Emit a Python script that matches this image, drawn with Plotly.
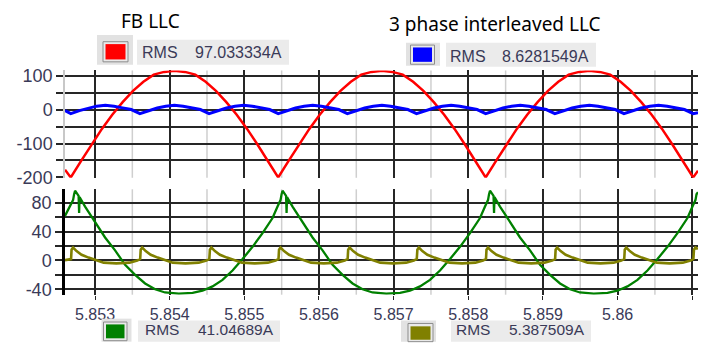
import plotly.graph_objects as go

# The page body keeps its default 8px margin, so the figure is sized to fit the
# 713x352 window exactly and all layout positions are given in window pixels.
WIN_W, WIN_H, OFF = 713, 352, 8
W, H = WIN_W - 2 * OFF, WIN_H - 2 * OFF

# ---------------- data (time in s, current in A) ----------------
red_t = [5.852598,
         5.852675, 5.852814, 5.852953, 5.853092, 5.853231, 5.853370, 5.853509, 5.853648, 5.853787, 5.853926,
         5.854065, 5.854204, 5.854343, 5.854482, 5.854620, 5.854759, 5.854898, 5.855037, 5.855176, 5.855315,
         5.855454, 5.855593, 5.855732, 5.855871, 5.856010, 5.856149, 5.856288, 5.856427, 5.856566, 5.856705,
         5.856844, 5.856983, 5.857122, 5.857261, 5.857399, 5.857538, 5.857677, 5.857816, 5.857955, 5.858094,
         5.858233, 5.858372, 5.858511, 5.858650, 5.858789, 5.858928, 5.859067, 5.859206, 5.859345, 5.859484,
         5.859623, 5.859762, 5.859901, 5.860040, 5.860178, 5.860317, 5.860456, 5.860595, 5.860734, 5.860873,
         5.861012, 5.861077]
red_i = [-177,
         -200, -151, -103, -57, -15, 22, 55, 82, 103, 111,
         114, 111, 103, 82, 55, 22, -15, -57, -103, -151,
         -200, -151, -103, -57, -15, 22, 55, 82, 103, 111,
         114, 111, 103, 82, 55, 22, -15, -57, -103, -151,
         -200, -151, -103, -57, -15, 22, 55, 82, 103, 111,
         114, 111, 103, 82, 55, 22, -15, -57, -103, -151,
         -200, -180]

blue_t = [5.852598,
          5.852675, 5.852791, 5.852907, 5.853022, 5.853138, 5.853254, 5.853370, 5.853486,
          5.853601, 5.853717, 5.853833, 5.853948, 5.854064, 5.854180, 5.854296, 5.854412,
          5.854528, 5.854644, 5.854760, 5.854875, 5.854991, 5.855107, 5.855223, 5.855339,
          5.855454, 5.855570, 5.855686, 5.855801, 5.855917, 5.856033, 5.856149, 5.856265,
          5.856380, 5.856496, 5.856612, 5.856727, 5.856843, 5.856959, 5.857075, 5.857191,
          5.857307, 5.857423, 5.857539, 5.857654, 5.857770, 5.857886, 5.858002, 5.858118,
          5.858233, 5.858349, 5.858465, 5.858580, 5.858696, 5.858812, 5.858928, 5.859044,
          5.859159, 5.859275, 5.859391, 5.859506, 5.859622, 5.859738, 5.859854, 5.859970,
          5.860085, 5.860201, 5.860317, 5.860432, 5.860548, 5.860664, 5.860780, 5.860896,
          5.861012, 5.861077]
blue_i = [-3,
          -12, -3, 4.5, 10, 12.5, 10, 5, 0,
          -12, -3, 4.5, 10, 12.5, 10, 5, 0,
          -12, -3, 4.5, 10, 12.5, 10, 5, 0,
          -12, -3, 4.5, 10, 12.5, 10, 5, 0,
          -12, -3, 4.5, 10, 12.5, 10, 5, 0,
          -12, -3, 4.5, 10, 12.5, 10, 5, 0,
          -12, -3, 4.5, 10, 12.5, 10, 5, 0,
          -12, -3, 4.5, 10, 12.5, 10, 5, 0,
          -12, -3, 4.5, 10, 12.5, 10, 5, 0,
          -12, -9]

green_t = [5.852598, 5.852666, 5.852706, 5.852720,
           5.852733, 5.852760, 5.852780, 5.852787, 5.852793, 5.852867, 5.853001, 5.853135, 5.853269,
           5.853403, 5.853537, 5.853671, 5.853805, 5.853938, 5.854123,
           5.854307, 5.854440, 5.854574, 5.854708, 5.854842, 5.854976, 5.855110, 5.855244, 5.855378,
           5.855445, 5.855485, 5.855499,
           5.855512, 5.855539, 5.855559, 5.855566, 5.855572, 5.855646, 5.855780, 5.855914, 5.856048,
           5.856182, 5.856316, 5.856450, 5.856584, 5.856717, 5.856902,
           5.857086, 5.857219, 5.857353, 5.857487, 5.857621, 5.857755, 5.857889, 5.858023, 5.858157,
           5.858224, 5.858264, 5.858278,
           5.858291, 5.858318, 5.858338, 5.858345, 5.858351, 5.858425, 5.858559, 5.858693, 5.858827,
           5.858961, 5.859095, 5.859229, 5.859363, 5.859496, 5.859681,
           5.859865, 5.859998, 5.860132, 5.860266, 5.860400, 5.860534, 5.860668, 5.860802, 5.860936,
           5.861003, 5.861043, 5.861057, 5.861077]
green_i = [62, 75, 84, 92,
           97, 93, 90, 66, 88, 75, 54, 32, 14,
           -6, -20, -32, -40, -44.5, -46,
           -45, -42, -36, -27, -14, 2, 19, 38, 59,
           75, 84, 92,
           97, 93, 90, 66, 88, 75, 54, 32, 14,
           -6, -20, -32, -40, -44.5, -46,
           -45, -42, -36, -27, -14, 2, 19, 38, 59,
           75, 84, 92,
           97, 93, 90, 66, 88, 75, 54, 32, 14,
           -6, -20, -32, -40, -44.5, -46,
           -45, -42, -36, -27, -14, 2, 19, 38, 59,
           75, 84, 92, 95]

olive_t = [5.852598, 5.852679,
           5.852686, 5.852706, 5.852753, 5.852820, 5.852914, 5.853007, 5.853115, 5.853286, 5.853463, 5.853566, 5.853605,
           5.853612, 5.853632, 5.853679, 5.853746, 5.853840, 5.853933, 5.854041, 5.854212, 5.854389, 5.854492, 5.854531,
           5.854539, 5.854559, 5.854606, 5.854673, 5.854767, 5.854860, 5.854968, 5.855139, 5.855316, 5.855419, 5.855458,
           5.855465, 5.855485, 5.855532, 5.855599, 5.855693, 5.855786, 5.855894, 5.856065, 5.856242, 5.856345, 5.856384,
           5.856391, 5.856411, 5.856458, 5.856525, 5.856619, 5.856712, 5.856820, 5.856991, 5.857168, 5.857271, 5.857310,
           5.857318, 5.857338, 5.857385, 5.857452, 5.857546, 5.857639, 5.857747, 5.857918, 5.858095, 5.858198, 5.858237,
           5.858244, 5.858264, 5.858311, 5.858378, 5.858472, 5.858565, 5.858673, 5.858844, 5.859021, 5.859124, 5.859163,
           5.859170, 5.859190, 5.859237, 5.859304, 5.859398, 5.859491, 5.859599, 5.859770, 5.859947, 5.860050, 5.860089,
           5.860096, 5.860116, 5.860163, 5.860230, 5.860324, 5.860417, 5.860525, 5.860696, 5.860873, 5.860976, 5.861015,
           5.861023, 5.861043, 5.861077]
olive_i = [0.5, 2,
           15, 18, 13, 8, 4, 0.5, -3, -4, -3, 0, 2,
           15, 18, 13, 8, 4, 0.5, -3, -4, -3, 0, 2,
           15, 18, 13, 8, 4, 0.5, -3, -4, -3, 0, 2,
           15, 18, 13, 8, 4, 0.5, -3, -4, -3, 0, 2,
           15, 18, 13, 8, 4, 0.5, -3, -4, -3, 0, 2,
           15, 18, 13, 8, 4, 0.5, -3, -4, -3, 0, 2,
           15, 18, 13, 8, 4, 0.5, -3, -4, -3, 0, 2,
           15, 18, 13, 8, 4, 0.5, -3, -4, -3, 0, 2,
           15, 18, 13, 8, 4, 0.5, -3, -4, -3, 0, 2,
           15, 18, 16]

x_tickvals = [5.853, 5.854, 5.855, 5.856, 5.857, 5.858, 5.859, 5.860, 5.861]
x_ticktext = ["5.853", "5.854", "5.855", "5.856", "5.857", "5.858", "5.859", "5.86", "5.861"]
x_minor_vals = [5.8535, 5.8545, 5.8555, 5.8565, 5.8575, 5.8585, 5.8595, 5.8605]
top_tickvals = [-200, -100, 0, 100]
top_ticktext = ["-200", "-100", "0", "100"]
bot_tickvals = [-40, 0, 40, 80]
bot_ticktext = ["-40", "0", "40", "80"]

titles = ["FB LLC", "3 phase interleaved LLC"]
rms_label = "RMS"
rms_values = ["97.033334A", "8.6281549A", "41.04689A", "5.387509A"]
colors = ["#ff0000", "#0000ff", "#008000", "#808000"]

# ---------------- helpers: window pixels -> paper fractions ----------------
def px(x):
    return (x - OFF) / W

def py(y):
    return 1 - (y - OFF) / H

TXT = "#3a3a58"
GRID = "#262626"
MINOR = "#cfcfcf"
XR = [5.852598, 5.861077]

fig = go.Figure()
fig.add_trace(go.Scatter(x=red_t, y=red_i, mode="lines", line=dict(color=colors[0], width=2.5),
                         xaxis="x", yaxis="y", showlegend=False))
fig.add_trace(go.Scatter(x=blue_t, y=blue_i, mode="lines", line=dict(color=colors[1], width=3),
                         xaxis="x", yaxis="y", showlegend=False))
fig.add_trace(go.Scatter(x=green_t, y=green_i, mode="lines", line=dict(color=colors[2], width=2.3),
                         xaxis="x2", yaxis="y2", showlegend=False))
fig.add_trace(go.Scatter(x=olive_t, y=olive_i, mode="lines", line=dict(color=colors[3], width=2.6),
                         xaxis="x2", yaxis="y2", showlegend=False))

xdom = [px(65), px(698)]
top_dom = [py(181), py(69)]
bot_dom = [py(303), py(193)]
common_x = dict(domain=xdom, range=XR, tickmode="array", tickvals=x_tickvals, ticktext=x_ticktext,
                showgrid=True, gridcolor=GRID, gridwidth=1.5, zeroline=False, showline=False)
yfont = dict(size=18, color=TXT, family="Liberation Sans")

fig.update_layout(
    width=W, height=H, margin=dict(l=0, r=0, t=0, b=0),
    paper_bgcolor="white", plot_bgcolor="white",
    font=dict(family="Liberation Sans, Arial, sans-serif", color=TXT),
    xaxis=dict(anchor="y", showticklabels=False, ticks="", **common_x),
    xaxis2=dict(anchor="y2", showticklabels=True, ticks="outside", ticklen=4, tickcolor=GRID,
                ticklabelstandoff=1, tickfont=dict(size=16, color=TXT, family="Liberation Sans"),
                **common_x),
    yaxis=dict(domain=top_dom, range=[-201, 115.2], anchor="x",
               tickmode="array", tickvals=top_tickvals, ticktext=top_ticktext,
               ticks="outside", ticklen=7, tickcolor=GRID, tickwidth=1.5, tickfont=yfont,
               showgrid=True, gridcolor=GRID, gridwidth=1.5, zeroline=False,
               showline=True, linecolor="#c8c8c8", linewidth=1.5,
               minor=dict(tickmode="linear", tick0=0, dtick=50, showgrid=True, gridcolor=GRID,
                          gridwidth=1.5, ticks="outside", ticklen=7, tickcolor=GRID, tickwidth=1.5)),
    yaxis2=dict(domain=bot_dom, range=[-47.6, 99], anchor="x2",
                tickmode="array", tickvals=bot_tickvals, ticktext=bot_ticktext,
                ticks="outside", ticklen=7, tickcolor=GRID, tickwidth=1.5, tickfont=yfont,
                showgrid=True, gridcolor=GRID, gridwidth=1.5, zeroline=False,
                showline=True, linecolor="black", linewidth=2.5,
                minor=dict(tickmode="linear", tick0=0, dtick=20, showgrid=True, gridcolor=GRID,
                           gridwidth=1.5, ticks="outside", ticklen=7, tickcolor=GRID, tickwidth=1.5)),
)

shapes = []
# light minor vertical gridlines at half ticks (both panels)
for xv in x_minor_vals:
    for dom in (top_dom, bot_dom):
        shapes.append(dict(type="line", xref="x", yref="paper", layer="below",
                           x0=xv, x1=xv, y0=dom[0], y1=dom[1],
                           line=dict(color=MINOR, width=1.5)))

def rect(x0, y0, x1, y1, fill, line=None, lw=0):
    shapes.append(dict(type="rect", xref="paper", yref="paper", layer="above",
                       x0=px(x0), x1=px(x1), y0=py(y1), y1=py(y0), fillcolor=fill,
                       line=dict(color=line or fill, width=lw)))

# legend boxes: (outer, swatch border, swatch fill, text bg, text y, RMS x, value x, font)
legend_geom = [
    ((97, 32, 133, 63), (103, 39, 128, 60), (105.5, 41.5, 125.5, 57.5), (137, 37, 289, 63), 50.5, 141, 194, 16),
    ((406, 40, 440, 64), (410.5, 42.5, 434.5, 62.5), (413, 45, 432, 60), (446, 40, 596, 65), 54, 448.5, 501, 16),
    ((101.5, 328, 131.5, 352), (103.5, 331.5, 127, 351), (106, 334, 124.5, 348.5), (138, 330, 280, 352), 339, 144, 196.5, 15.5),
    ((401, 330, 436, 352), (408, 333, 433, 352), (410.5, 336, 430.5, 350), (451, 330, 591, 352), 339, 454.5, 508, 15.5),
]
annotations = []
for i, (outer, sw, fillr, tbg, ty, xr, xv, fs) in enumerate(legend_geom):
    rect(*outer, "#e2e2e2")
    rect(*sw, "#e9e9e9", line="#8c8c8c", lw=1)
    rect(*fillr, colors[i])
    rect(*tbg, "#ebebeb")
    annotations.append(dict(text=rms_label, x=px(xr), y=py(ty), xref="paper", yref="paper",
                            xanchor="left", yanchor="middle", showarrow=False, borderpad=0,
                            font=dict(size=fs, color=TXT, family="Liberation Sans")))
    annotations.append(dict(text=rms_values[i], x=px(xv), y=py(ty), xref="paper", yref="paper",
                            xanchor="left", yanchor="middle", showarrow=False, borderpad=0,
                            font=dict(size=fs, color=TXT, family="Liberation Sans")))

# cut-off of the last x tick label at the right edge
rect(700, 305, 713, 332, "white")

annotations.append(dict(text=titles[0], x=px(150), y=py(17.5), xref="paper", yref="paper",
                        xanchor="center", yanchor="middle", showarrow=False,
                        font=dict(size=19, color="black", family="Noto Sans")))
annotations.append(dict(text=titles[1], x=px(495), y=py(21), xref="paper", yref="paper",
                        xanchor="center", yanchor="middle", showarrow=False,
                        font=dict(size=19, color="black", family="Noto Sans")))

fig.update_layout(shapes=shapes, annotations=annotations)
fig.write_html("out.html", config={"displayModeBar": False})
